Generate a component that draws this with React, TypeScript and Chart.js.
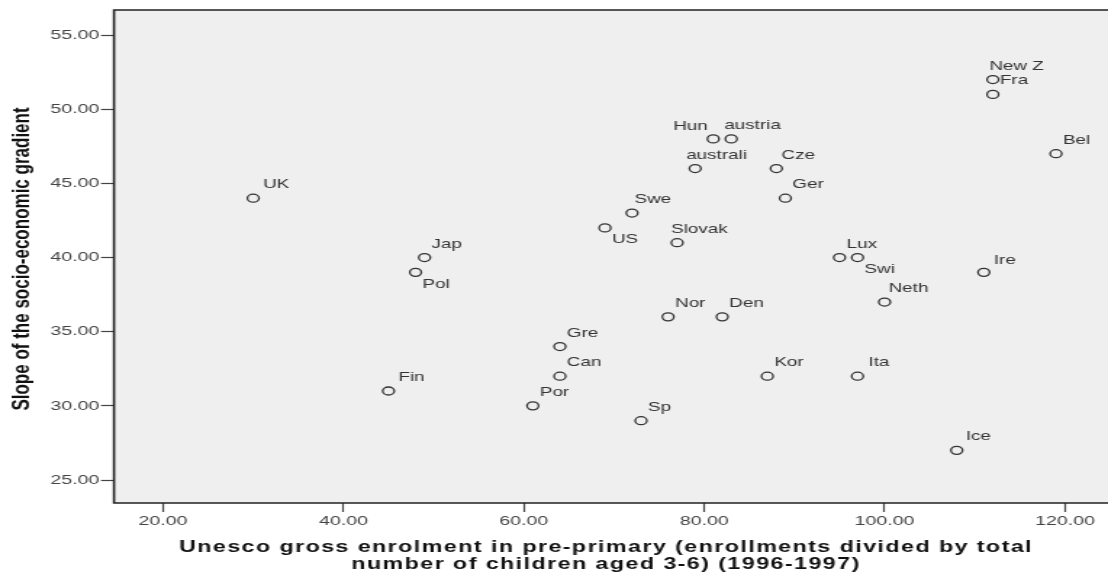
import React, { useEffect, useRef } from "react";
import { Chart, registerables } from "chart.js";

Chart.register(...registerables);

// ---- data ----
const countries = [
  "UK", "Fin", "Jap", "Pol", "US", "Swe", "Slovak", "australi", "Hun", "austria",
  "Cze", "Ger", "Gre", "Can", "Por", "Sp", "Nor", "Den", "Kor", "Ita",
  "Neth", "Lux", "Swi", "Ire", "Ice", "New Z", "Fra", "Bel",
];
const enrolment = [
  30, 45, 49, 48, 69, 72, 77, 79, 81, 83,
  88, 89, 64, 64, 61, 73, 76, 82, 87, 97,
  100, 95, 97, 111, 108, 112, 112, 119,
];
const gradient = [
  44, 31, 40, 39, 42, 43, 41, 46, 48, 48,
  46, 44, 34, 32, 30, 29, 36, 36, 32, 32,
  37, 40, 40, 39, 27, 52, 51, 47,
];
const xTickValues = [20, 40, 60, 80, 100, 120];
const yTickValues = [25, 30, 35, 40, 45, 50, 55];
const xTitleLines = [
  "Unesco gross enrolment in pre-primary (enrollments divided by total",
  "number of children aged 3-6) (1996-1997)",
];
const yTitle = "Slope of the socio-economic gradient";

// ---- layout / style ----
const SCREEN_W = 1108;
const H = 575;
const W = 764; // logical canvas width, stretched horizontally to SCREEN_W
const S = SCREEN_W / W;
const FONT = '"Liberation Sans", Arial, sans-serif';

// label offsets in screen pixels: [dx of text left edge, dy of text middle]
const DEFAULT_OFFSET: [number, number] = [7, -13.5];
const LABEL_OFFSETS: Record<string, [number, number]> = {
  UK: [10, -13.5],
  Fin: [10, -13.5],
  Pol: [7, 12],
  US: [7, 12],
  Swi: [7, 12],
  Swe: [2.5, -13.5],
  Slovak: [-6, -13.5],
  australi: [-9, -13.5],
  Hun: [-40, -12],
  austria: [-7, -13],
  Cze: [5, -13.5],
  Neth: [4, -13.5],
  Ire: [10, -12],
  Ita: [11, -13.5],
  Ice: [9, -13.5],
  "New Z": [-3.5, -13.5],
};

const plotBackground = {
  id: "plotBackground",
  beforeDraw(chart: any) {
    const { ctx, chartArea: a } = chart;
    ctx.save();
    ctx.fillStyle = "#efefef";
    ctx.fillRect(a.left, a.top, a.right - a.left, a.bottom - a.top);
    ctx.restore();
  },
};

const frame = {
  id: "frame",
  afterDraw(chart: any) {
    const { ctx, chartArea: a } = chart;
    ctx.save();
    ctx.strokeStyle = "#222";
    ctx.lineWidth = 1.6;
    ctx.beginPath();
    ctx.moveTo(a.right + 2, a.top);
    ctx.lineTo(a.left, a.top);
    ctx.lineTo(a.left, a.bottom);
    ctx.lineTo(a.right + 2, a.bottom);
    ctx.stroke();
    ctx.restore();
  },
};

const pointLabels = {
  id: "pointLabels",
  afterDatasetsDraw(chart: any) {
    const { ctx } = chart;
    const meta = chart.getDatasetMeta(0);
    ctx.save();
    ctx.font = `13px ${FONT}`;
    ctx.fillStyle = "#333";
    ctx.textAlign = "left";
    ctx.textBaseline = "middle";
    meta.data.forEach((el: any, i: number) => {
      const name = countries[i];
      const [dx, dy] = LABEL_OFFSETS[name] || DEFAULT_OFFSET;
      ctx.fillText(name, el.x + dx / S, el.y + dy);
    });
    ctx.restore();
  },
};

const axisTitles = {
  id: "axisTitles",
  afterDraw(chart: any) {
    const { ctx } = chart;
    ctx.save();
    ctx.fillStyle = "#111";
    ctx.textAlign = "center";
    ctx.textBaseline = "middle";
    // y title
    ctx.save();
    ctx.translate(22 / S, 259);
    ctx.rotate(-Math.PI / 2);
    ctx.font = `bold 17px ${FONT}`;
    ctx.fillText(yTitle, 0, 0);
    ctx.restore();
    // x title
    ctx.font = `bold 16px ${FONT}`;
    (ctx as any).letterSpacing = "1px";
    ctx.fillText(xTitleLines[0], 606 / S, 548);
    ctx.fillText(xTitleLines[1], 606 / S, 565);
    ctx.restore();
  },
};

export default function App() {
  const ref = useRef<HTMLCanvasElement>(null);

  useEffect(() => {
    const canvas = ref.current;
    if (!canvas) return;
    const chart = new Chart(canvas, {
      type: "scatter",
      data: {
        datasets: [
          {
            data: enrolment.map((x, i) => ({ x, y: gradient[i] })),
            pointStyle: "circle",
            pointRadius: 4,
            pointHoverRadius: 4,
            pointBackgroundColor: "rgba(0,0,0,0)",
            pointBorderColor: "#333",
            pointBorderWidth: 1.3,
          },
        ],
      },
      options: {
        responsive: false,
        devicePixelRatio: 1,
        animation: false,
        layout: { autoPadding: false, padding: { top: 10, left: 0, right: 0, bottom: 0 } },
        plugins: {
          legend: { display: false },
          tooltip: { enabled: false },
          title: { display: false },
        },
        scales: {
          x: {
            type: "linear",
            min: 14.57,
            max: 124.77,
            afterBuildTicks: (scale: any) => {
              scale.ticks = xTickValues.map((v) => ({ value: v }));
            },
            afterFit: (scale: any) => {
              scale.height = 72;
              scale.paddingLeft = 0;
              scale.paddingRight = 0;
            },
            grid: {
              display: true,
              drawOnChartArea: false,
              drawTicks: true,
              tickLength: 9,
              tickColor: "#444",
              tickWidth: 1.2,
            },
            border: { display: false },
            ticks: {
              padding: 1,
              color: "#444",
              font: { family: FONT, size: 13.5 },
              maxRotation: 0,
              callback: (v: any) => Number(v).toFixed(2),
            },
          },
          y: {
            type: "linear",
            min: 23.45,
            max: 56.69,
            afterBuildTicks: (scale: any) => {
              scale.ticks = yTickValues.map((v) => ({ value: v }));
            },
            afterFit: (scale: any) => {
              scale.width = 114 / S;
              scale.paddingTop = 0;
              scale.paddingBottom = 0;
            },
            grid: {
              display: true,
              drawOnChartArea: false,
              drawTicks: true,
              tickLength: 9,
              tickColor: "#444",
              tickWidth: 1.2,
            },
            border: { display: false },
            ticks: {
              padding: 1,
              color: "#444",
              font: { family: FONT, size: 13.5 },
              callback: (v: any) => Number(v).toFixed(2),
            },
          },
        },
      },
      plugins: [plotBackground, pointLabels, frame, axisTitles],
    });
    return () => chart.destroy();
  }, []);

  return (
    <div style={{ position: "absolute", left: 0, top: 0, width: SCREEN_W, height: H, overflow: "hidden" }}>
      <canvas
        ref={ref}
        width={W}
        height={H}
        style={{ width: `${SCREEN_W}px`, height: `${H}px`, display: "block" }}
      />
    </div>
  );
}
